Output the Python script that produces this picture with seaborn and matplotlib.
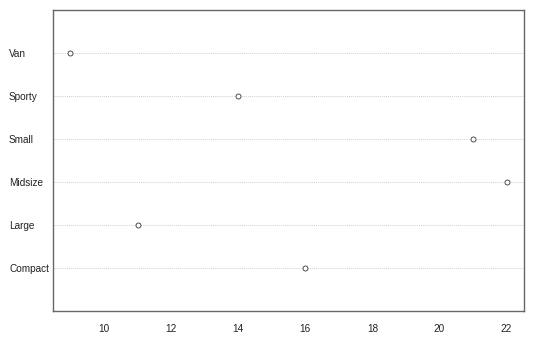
import matplotlib
matplotlib.use("Agg")
import matplotlib.pyplot as plt
import seaborn as sns
import pandas as pd

categories = ["Van", "Sporty", "Small", "Midsize", "Large", "Compact"]
counts = [9, 14, 21, 22, 11, 16]
xticks = [10, 12, 14, 16, 18, 20, 22]

df = pd.DataFrame({"type": categories, "count": counts})

sns.set_style("white")
plt.rcParams["font.family"] = ["Liberation Sans", "DejaVu Sans"]

fig = plt.figure(figsize=(5.35, 3.39), dpi=100)
ax = fig.add_axes([53/535, 1-311/339, (524-53)/535, (311-10)/339])

for i in range(len(categories)):
    ax.axhline(i, color="#cfcfcf", lw=0.7, ls=(0, (1, 1)), zorder=0)

sns.stripplot(data=df, x="count", y="type", order=categories, orient="h",
              jitter=False, ax=ax, marker="o", size=3.6, color="white",
              edgecolor="#333333", linewidth=0.6, zorder=3)

ax.set_xlim(8.48, 22.52)
ax.set_ylim(6, -1)
ax.set_xticks(xticks)
ax.set_xticklabels([str(t) for t in xticks])
ax.set_xlabel("")
ax.set_ylabel("")
for s in ax.spines.values():
    s.set_visible(True)
    s.set_color("#666666")
    s.set_linewidth(1.0)
ax.tick_params(axis="x", length=4, width=0.8, color="#666666", labelsize=7.2, pad=5, labelcolor="#222222", direction="out")
ax.tick_params(axis="y", length=0, labelsize=7.2, pad=44*0.72, labelcolor="#222222")
for lab in ax.get_yticklabels():
    lab.set_horizontalalignment("left")

fig.savefig("out.png", dpi=100, facecolor="white")
